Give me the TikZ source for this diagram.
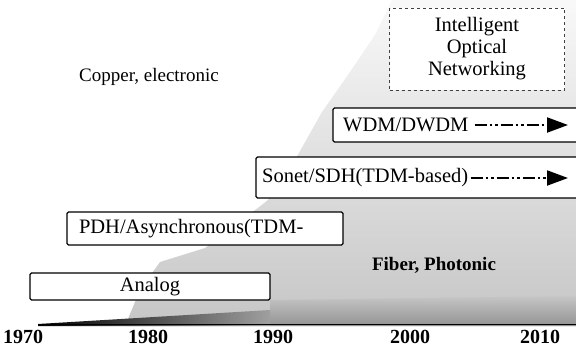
\documentclass[tikz,border=0pt]{standalone}
\usepackage{fontspec}
\setmainfont{Liberation Serif}
\usetikzlibrary{arrows.meta}
\begin{document}
\begin{tikzpicture}[x=1pt,y=-1pt,
  boxfont/.style={font=\fontsize{20.5}{22}\selectfont},
  tbox/.style={draw=black, line width=1.3pt, fill=white, rounded corners=1.5pt, inner sep=0pt},
  flowarrow/.style={line width=2pt, dash pattern=on 12pt off 3pt on 2.5pt off 3pt on 2.5pt off 3pt,
    -{Triangle[length=21pt,width=15pt]}},
  yearlbl/.style={font=\fontsize{20}{22}\selectfont\bfseries},
  arealbl/.style={font=\fontsize{19}{22}\selectfont}
]
\useasboundingbox (0,0) rectangle (576,354);
\clip (0,0) rectangle (576,354);
\fill[white] (0,0) rectangle (576,354);
% speckled fibre region
\shade[top color=gray!5, bottom color=gray!45]
  (125,326) -- (140,290) -- (160,262) -- (205,248) -- (240,222) -- (268,200)
  -- (295,160) -- (322,112) -- (350,72) -- (375,35) -- (392,0) -- (576,0)
  -- (576,326) -- cycle;
% dark bottom band
\shade[top color=gray!45, bottom color=gray!85]
  (270,300) -- (576,296) -- (576,326) -- (270,326) -- cycle;
\shade[left color=black, right color=gray!75]
  (38,324) -- (270,310) -- (270,326) -- (38,326) -- cycle;
\draw[line width=1.2pt] (38,324.5) -- (576,324.5);

% boxes
\node[tbox, minimum width=240pt, minimum height=27pt, boxfont] (analog) at (150,286.5) {Analog};
\node[tbox, minimum width=276pt, minimum height=33pt, boxfont, text width=252pt, align=left] (pdh) at (205,228.5) {PDH/Asynchronous(TDM-};
\node[tbox, minimum width=344pt, minimum height=41pt] (sonet) at (428,177.5) {};
\node[boxfont, anchor=west, inner sep=2pt] (sonett) at (260,178) {Sonet/SDH(TDM-based)};
\coordinate (sonetend) at (568,178);
\draw[flowarrow] (sonett.east) -- (sonetend);
\node[tbox, minimum width=267pt, minimum height=34pt] (wdm) at (466.5,125) {};
\node[boxfont, anchor=west, inner sep=2pt] (wdmt) at (341,125) {WDM/DWDM};
\coordinate (wdmend) at (568,125);
\draw[flowarrow] ([xshift=4pt]wdmt.east) -- (wdmend);
\node[draw=black!75, dashed, line width=0.8pt, fill=white, minimum width=175pt, minimum height=82pt,
  boxfont, align=center, inner sep=0pt] (ion) at (477,49) {Intelligent\\Optical\\Networking};

% area labels
\node[arealbl] (copper) at (149,77) {Copper, electronic};
\node[arealbl, font=\fontsize{19}{22}\selectfont\bfseries] (fiber) at (434,265) {Fiber, Photonic};

% years
\node[yearlbl] (y1970) at (23,337) {1970};
\node[yearlbl] (y1980) at (148,337) {1980};
\node[yearlbl] (y1990) at (273,337) {1990};
\node[yearlbl] (y2000) at (410,337) {2000};
\node[yearlbl] (y2010) at (540,337) {2010};
\end{tikzpicture}
\end{document}
